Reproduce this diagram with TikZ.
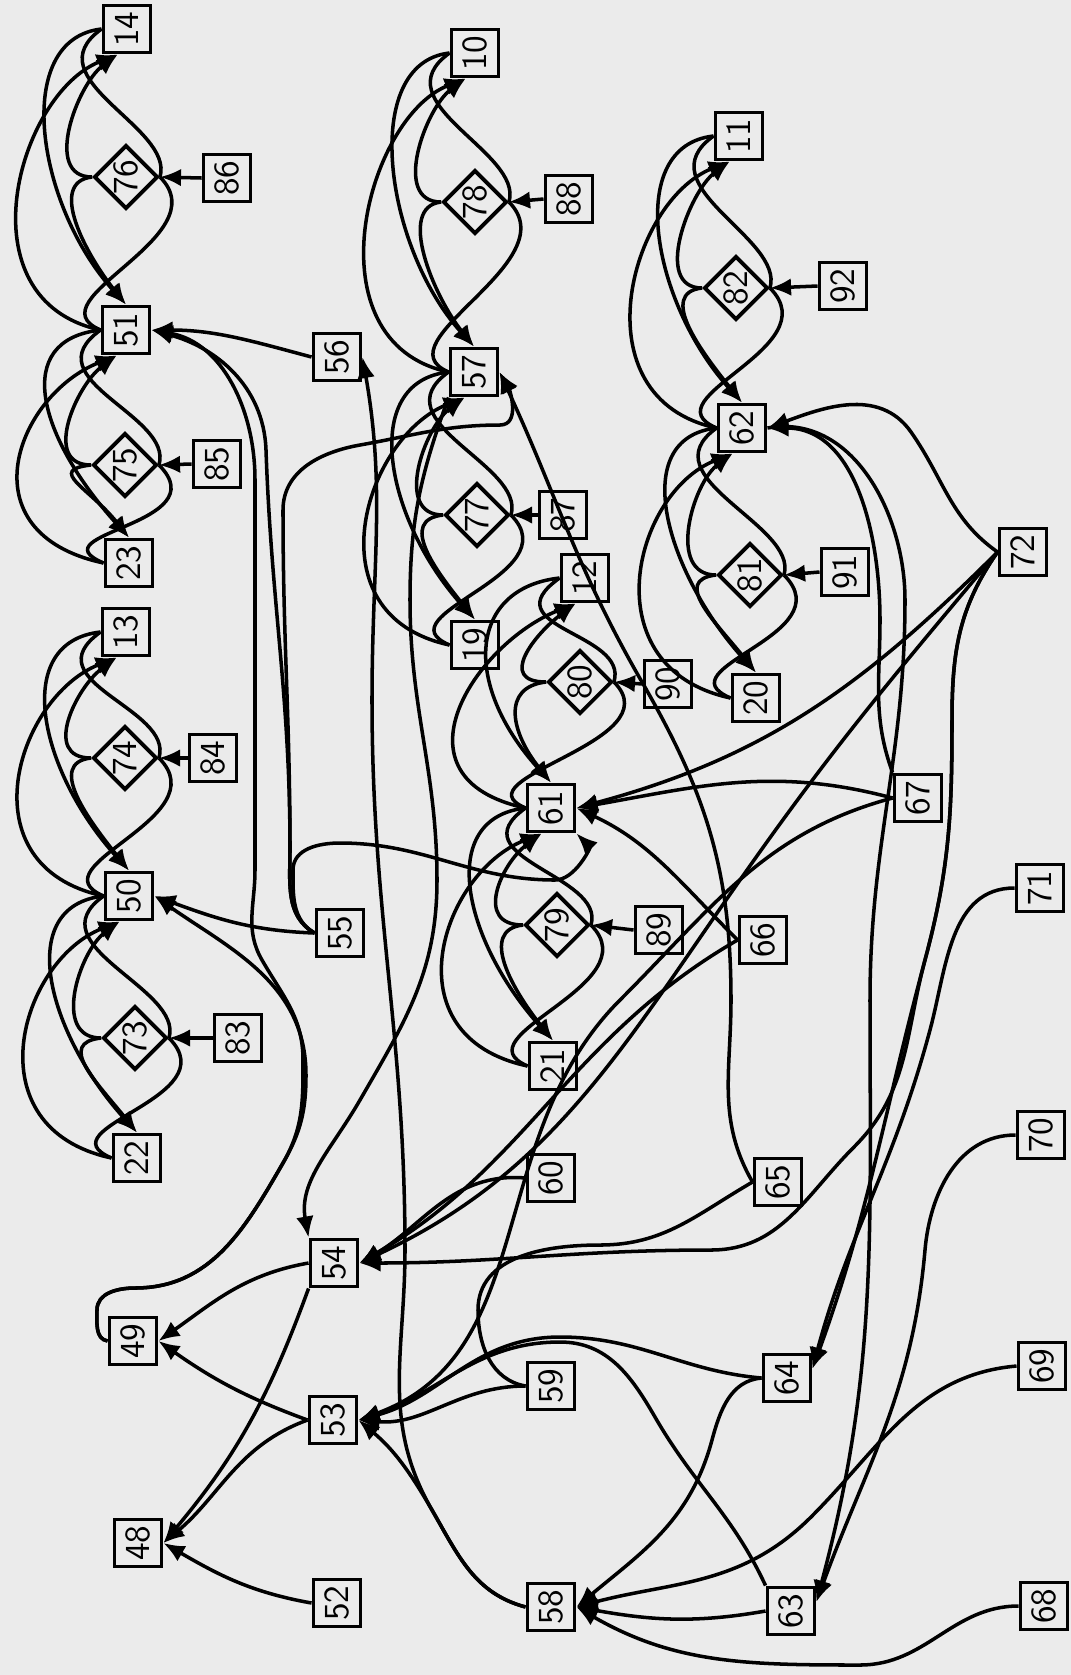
\documentclass[tikz,border=0pt]{standalone}
\usepackage{tikz}
\usetikzlibrary{shapes.geometric, arrows.meta}
\definecolor{paper}{HTML}{EBEBEB}

\begin{document}
\begin{tikzpicture}[
  x=0.01cm, y=-0.01cm,
  font=\sffamily\normalsize,
  line width=1pt,
  >={Latex[length=6pt,width=5pt]},
  box/.style={draw, line width=1.1pt, minimum size=0.47cm, inner sep=0pt},
  trans/.style={draw, diamond, line width=1.1pt, minimum width=0.64cm,
                minimum height=0.64cm, inner sep=0pt},
]
\fill[paper] (0,0) rectangle (1071,1675);
\useasboundingbox (0,0) rectangle (1071,1675);

% ---------------- places (boxes) ----------------
\foreach \n/\px/\py in {14/127/29, 86/227/178, 51/126/330, 56/337/357,
    10/475/53, 88/569/199, 57/474/372, 11/739/136, 92/843/286, 62/742/428,
    85/217/464, 23/129/563, 13/126/632, 84/213/758, 50/129/896, 55/340/933,
    83/238/1038, 22/137/1158, 87/563/515, 12/585/578, 19/475/645, 90/668/684,
    61/551/808, 91/845/572, 20/756/698, 72/1023/552, 67/918/798, 89/659/930,
    21/553/1066, 60/551/1178, 66/763/940, 71/1040/888, 65/778/1182,
    70/1041/1135, 49/133/1341, 54/334/1263, 53/333/1420, 48/138/1543,
    52/337/1603, 59/551/1386, 58/551/1607, 64/787/1378, 69/1042/1366,
    63/791/1611, 68/1044/1606}
  \node[box] (n\n) at (\px,\py) {\rotatebox{90}{\n}};

% ---------------- transitions (diamonds) ----------------
\foreach \n/\px/\py in {76/126/177, 78/475/202, 82/736/288, 75/125/465,
    74/125/758, 73/135/1038, 77/477/515, 80/580/682, 81/750/575, 79/557/925}
  \node[trans] (n\n) at (\px,\py) {\rotatebox{90}{\n}};

% ---------------- one pattern per transition: upper/diamond/lower/feed ----------------
\foreach \u/\d/\l/\f in {14/76/51/86, 10/78/57/88, 11/82/62/92, 51/75/23/85,
    13/74/50/84, 50/73/22/83, 57/77/19/87, 12/80/61/90, 62/81/20/91, 61/79/21/89} {
  \draw[->] (n\u.west) .. controls +(-90,10) and +(-90,-100) .. (n\l.north);
  \draw[->] (n\l.west) .. controls +(-140,-30) and +(-100,40) .. (n\u.250);
  \draw[->] (n\d.west) .. controls +(-50,0) and +(-40,30) .. (n\u.250);
  \draw[->] (n\d.west) .. controls +(-45,5) and +(-40,-50) .. (n\l.north);
  \draw (n\u.west) .. controls +(-70,50) and +(15,-50) .. (n\d.east);
  \draw (n\l.west) .. controls +(-70,-30) and +(60,60) .. (n\d.east);
  \draw[->] (n\f.west) -- (n\d.east);
}

% ---------------- left column ----------------
\draw[->] (n56.west) to[out=165,in=0] (n51.east);
\draw[->] (n55.west) to[out=178,in=-20] (n50.east);
\draw[->] (n55.west) to[out=150,in=-90] (290,850) to[out=90,in=-88] (266,450)
  to[out=92,in=-15] (n51.east);
\draw[->] (n55.west) to[out=150,in=-90] (290,850) to[out=90,in=-90] (283,510)
  to[out=90,in=190] (360,445) to[out=10,in=180] (500,425) to[out=0,in=-60] (n57.east);
\draw[->] (n49.west) to[out=170,in=-90] (97,1310) to[out=90,in=180] (135,1288)
  to[out=0,in=-120] (283,1163) to[out=60,in=-90] (306,1075) to[out=90,in=-35] (n50.east);
\draw[->] (n49.west) to[out=170,in=-90] (97,1310) to[out=90,in=180] (135,1288)
  to[out=0,in=-120] (283,1163) to[out=60,in=-90] (303,1060) to[out=90,in=-60] (262,960)
  to[out=120,in=-90] (255,870) to[out=90,in=-90] (255,480) to[out=90,in=-10] (n51.east);
\draw[->] (n54.west) to[out=190,in=35] (n49.east);
\draw[->] (n53.west) to[out=160,in=-35] (n49.east);
\draw[->] (n54.south west) to[out=-110,in=50] (n48.east);
\draw[->] (n53.west) to[out=200,in=40] (n48.east);
\draw[->] (n52.west) to[out=170,in=-30] (n48.east);
\draw[->] (n57.south west) to[out=-110,in=90] (410,600) to[out=-90,in=90] (437,880)
  to[out=-90,in=60] (360,1100) to[out=-120,in=100] (n54.north west);
\draw[->] (n58.west) to[out=165,in=-60] (432,1510) to[out=120,in=-90] (405,1250)
  to[out=90,in=-90] (372,700) to[out=90,in=-80] (n56.east);
\draw[->] (n58.west) to[out=165,in=-60] (432,1510) to[out=120,in=-40] (n53.east);
\draw[->] (n59.west) to[out=180,in=-5] (n53.east);

% ---------------- bottom right ----------------
\draw[->] (n64.west) to[out=175,in=0] (560,1337) to[out=180,in=15] (n53.east);
\draw[->] (n63.north west) to[out=115,in=-60] (655,1417) to[out=120,in=0] (560,1342)
  to[out=180,in=18] (n53.east);
\draw[->] (n64.west) to[out=185,in=75] (712,1440) to[out=-105,in=40] (n58.east);
\draw[->] (n63.west) to[out=190,in=-10] (n58.east);
\draw[->] (n69.west) to[out=185,in=45] (811,1517) to[out=225,in=15] (n58.east);
\draw[->] (n68.west) to[out=180,in=0] (860,1665) to[out=180,in=-30] (n58.east);
\draw[->] (n70.west) to[out=180,in=85] (925,1250) to[out=-95,in=70] (n63.20);
\draw[->] (n71.west) to[out=180,in=75] (930,1030) to[out=-105,in=75] (n64.20);

% ---------------- right side ----------------
\draw[->] (n72.west) to[out=-125,in=90] (952,720) to[out=-90,in=75] (925,960)
  to[out=-105,in=70] (n64.20);
\draw[->] (n72.west) to[out=-125,in=90] (952,720) to[out=-90,in=75] (925,960)
  to[out=-105,in=45] (854,1147) to[out=-135,in=0] (711,1250) to[out=180,in=0] (n54.east);
\draw[->] (n72.west) to[out=145,in=-55] (911,432) to[out=125,in=20] (n62.east);
\draw[->] (n72.west) to[out=-135,in=15] (n61.east);
\draw[->] (n72.west) to[out=-130,in=55] (740,880) to[out=-125,in=25] (n54.east);
\draw[->] (n67.west) to[out=165,in=10] (n61.east);
\draw[->] (n67.west) to[out=-165,in=45] (620,1000) to[out=-135,in=20] (n53.east);
\draw[->] (n67.north west) to[out=110,in=-90] (880,620) to[out=90,in=0] (n62.east);
\draw[->] (n62.east) to[out=10,in=90] (905,600) to[out=-90,in=90] (870,1000)
  to[out=-90,in=75] (n63.20);
\draw[->] (n66.west) to[out=135,in=-25] (n61.east);
\draw[->] (n66.west) to[out=-150,in=30] (n54.east);
\draw[->] (n65.west) to[out=120,in=-90] (731,1000) to[out=90,in=-60] (642,682)
  to[out=120,in=-65] (n57.east);
\draw (n59.west) to[out=170,in=-90] (478,1310) to[out=90,in=180] (600,1245)
  to[out=0,in=-150] (n65.west);
\draw[->] (n60.west) to[out=175,in=30] (n54.east);
\draw[->] (n55.west) to[out=150,in=-90] (293,870) to[out=90,in=180] (340,843)
  to[out=0,in=180] (555,880) to[out=0,in=-45] (n61.south east);

\end{tikzpicture}
\end{document}
